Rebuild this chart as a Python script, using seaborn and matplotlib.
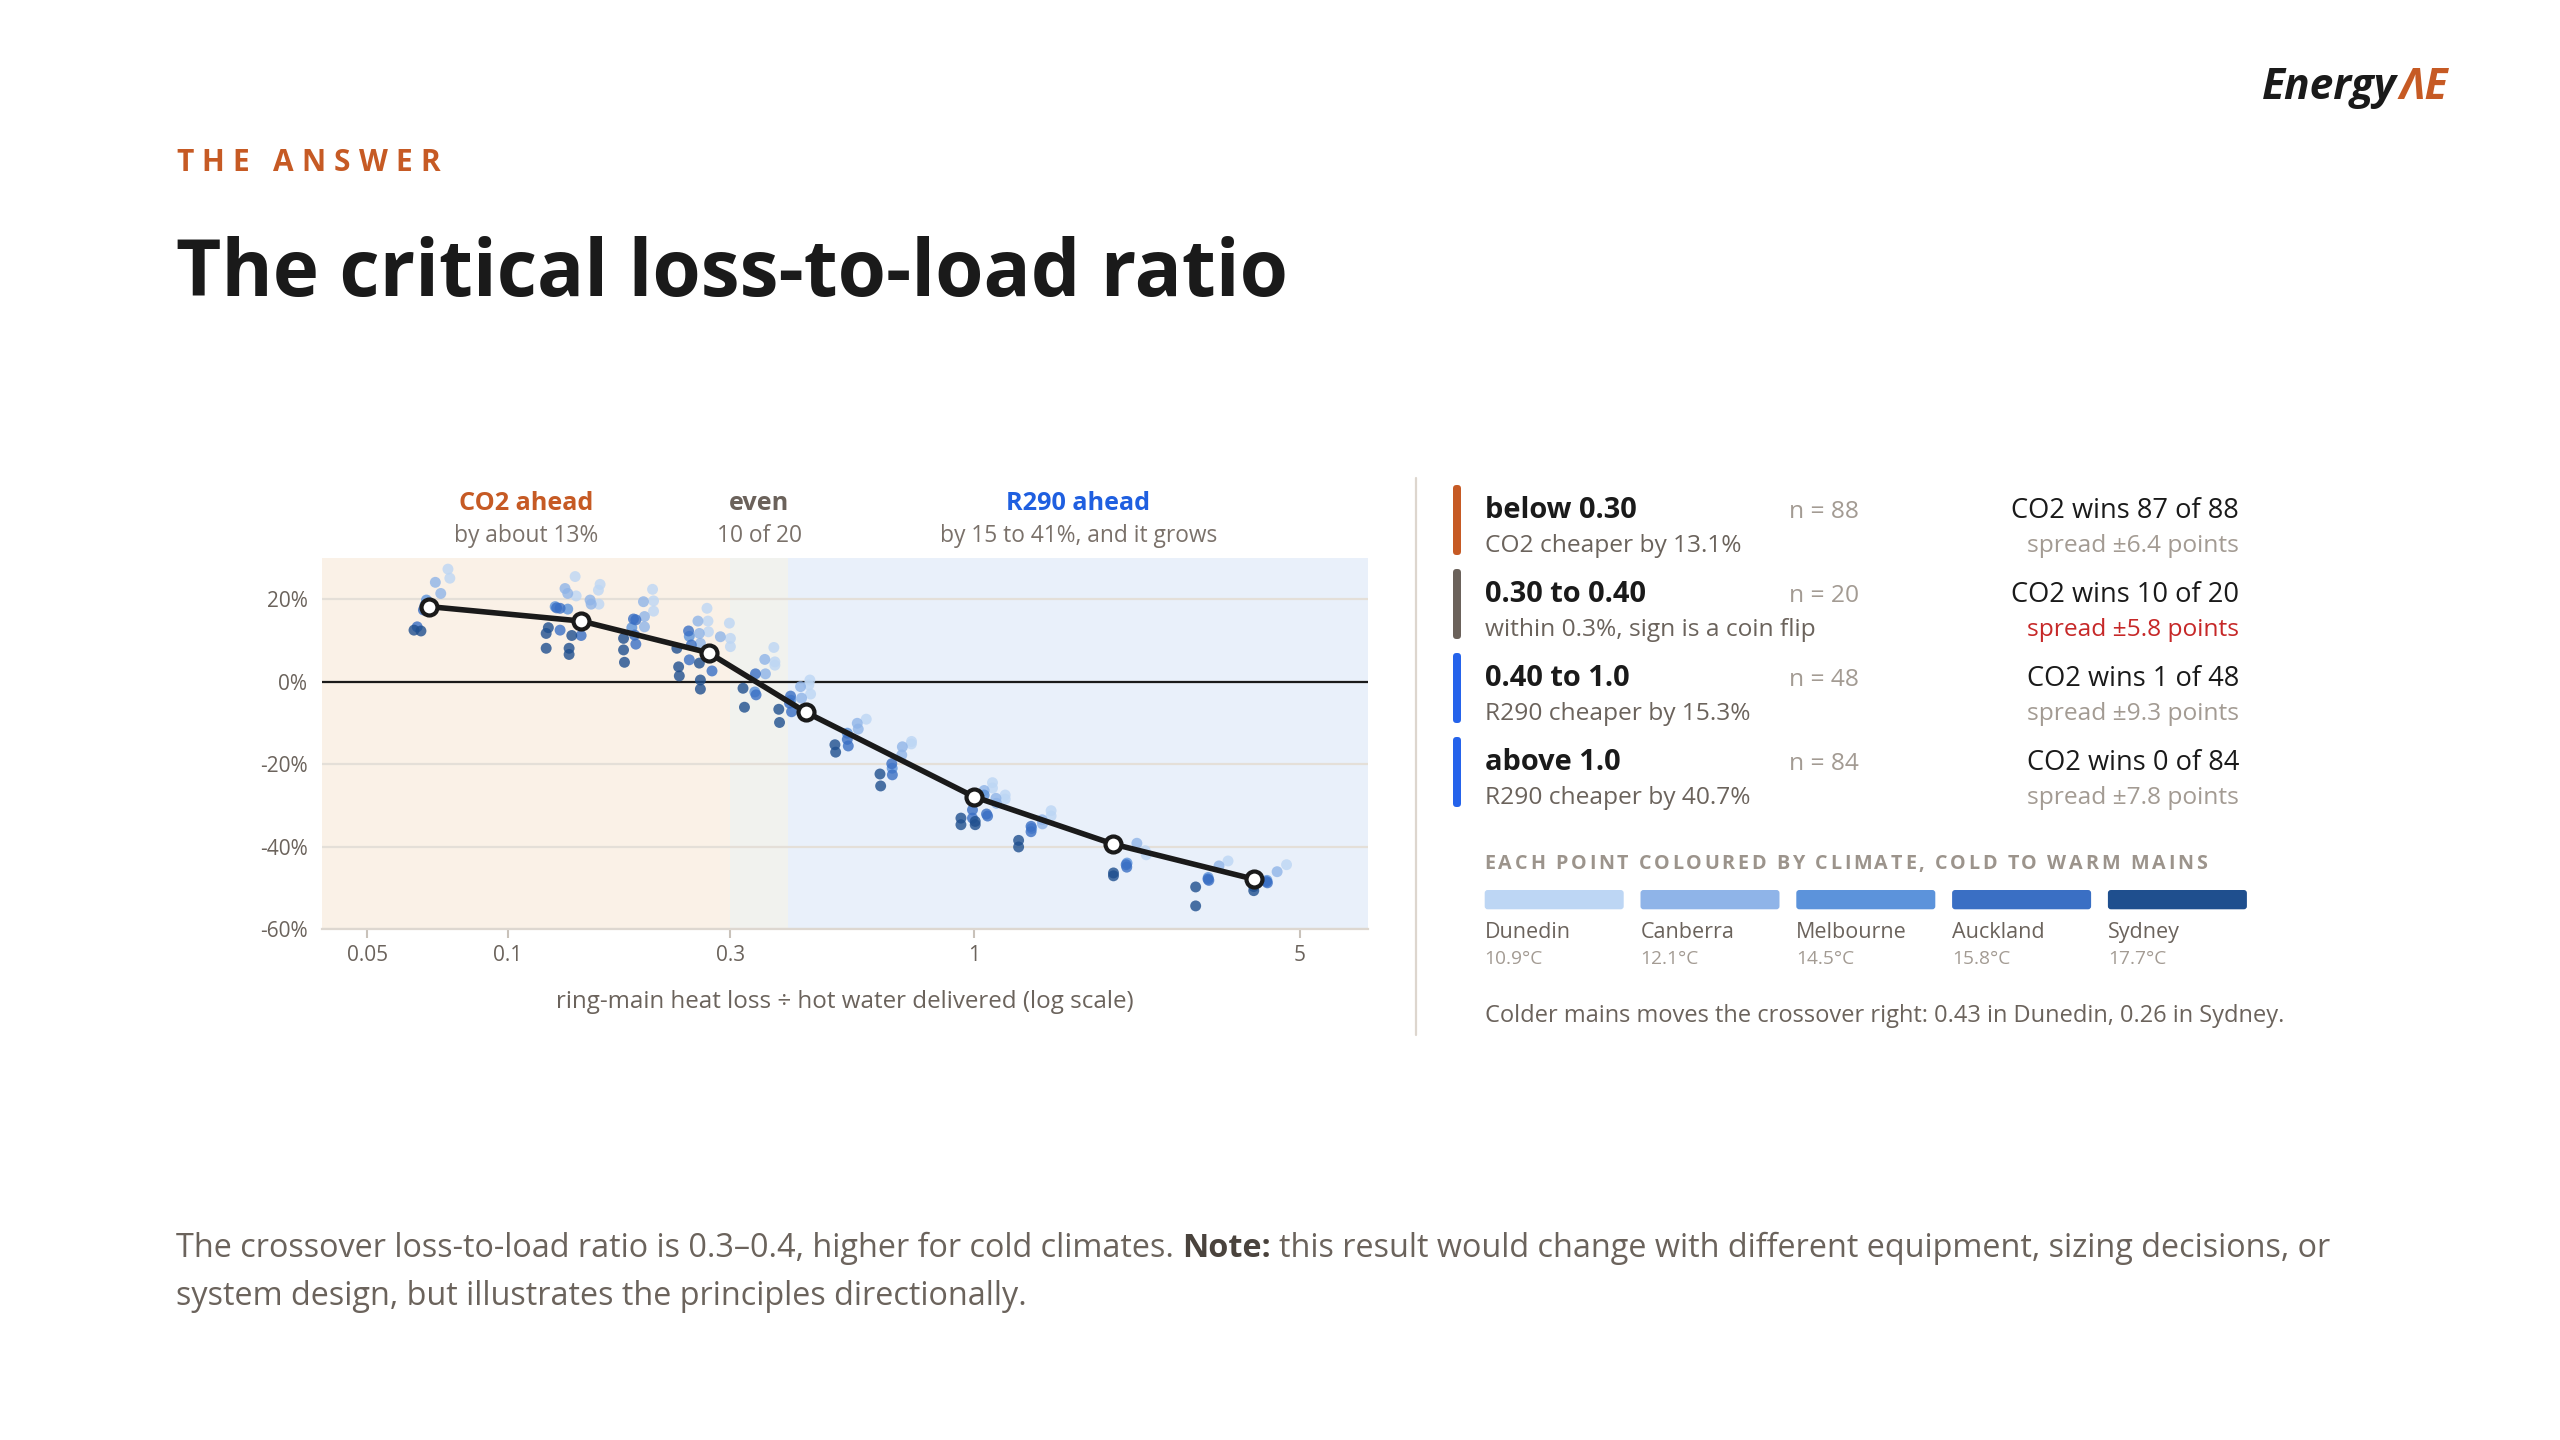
import numpy as np
import pandas as pd
import matplotlib
matplotlib.use("Agg")
import matplotlib.pyplot as plt
import seaborn as sns
from matplotlib.patches import FancyBboxPatch
from matplotlib.lines import Line2D
from matplotlib.transforms import blended_transform_factory

# ---------------- data ----------------
cities = ["Dunedin", "Canberra", "Melbourne", "Auckland", "Sydney"]
city_temps = ["10.9°C", "12.1°C", "14.5°C", "15.8°C", "17.7°C"]
city_colors = ["#BDD6F4", "#8FB4E8", "#5C93DB", "#3A6FC4", "#1F4F8E"]

dunedin_x = [0.0745, 0.0752, 0.1396, 0.1403, 0.1566, 0.1579, 0.1570, 0.2046, 0.2056, 0.2056,
             0.2677, 0.2690, 0.2696, 0.2990, 0.3005, 0.3005, 0.3724, 0.3743, 0.3743, 0.4427,
             0.4449, 0.4465, 0.5877, 0.7343, 0.7350, 1.096, 1.096, 1.167, 1.167, 1.464,
             1.464, 2.342, 2.330, 3.507, 4.682]
dunedin_y = [27.3, 25.1, 25.5, 20.8, 22.2, 23.6, 18.8, 22.4, 19.6, 17.1,
             17.8, 14.7, 12.1, 14.2, 10.5, 8.5, 8.3, 4.8, 4.0, -0.8,
             0.4, -3.0, -9.1, -15.1, -14.5, -24.5, -25.8, -27.5, -28.5, -31.3,
             -32.6, -42.0, -41.0, -43.5, -44.4]

canberra_x = [0.0700, 0.0719, 0.1328, 0.1346, 0.1503, 0.1511, 0.1956, 0.1966, 0.1966, 0.2560,
              0.2578, 0.2591, 0.2860, 0.3561, 0.3573, 0.4249, 0.4270, 0.5622, 0.5649, 0.7024,
              0.7003, 1.052, 1.118, 1.115, 1.400, 1.403, 2.236, 3.354, 4.469]
canberra_y = [24.1, 21.4, 22.6, 21.4, 19.8, 18.8, 19.4, 15.8, 13.3, 14.7,
              11.7, 9.3, 10.9, 5.4, 1.9, -1.2, -4.0, -10.1, -11.5, -15.8,
              -17.8, -26.4, -29.5, -28.3, -33.5, -34.5, -39.2, -44.7, -46.1]

melbourne_x = [0.0670, 0.0665, 0.1265, 0.1346, 0.1847, 0.2453, 0.3390, 0.4050, 0.5352, 0.6680,
               0.998, 1.052, 1.330, 2.130, 3.180, 4.250]
melbourne_y = [19.8, 18.5, 18.2, 17.6, 13.1, 11.0, -2.5, -4.5, -12.5, -21.0,
               -29.0, -27.5, -35.6, -44.0, -47.5, -48.2]

auckland_x = [0.0640, 0.0660, 0.1274, 0.1296, 0.1296, 0.1438, 0.1862, 0.1884, 0.1884, 0.1872,
              0.2444, 0.2453, 0.2478, 0.2744, 0.3401, 0.3411, 0.4024, 0.4044, 0.4064, 0.5352,
              0.5378, 0.6666, 0.6686, 0.993, 0.993, 1.0643, 1.070, 1.326, 1.326, 2.121,
              2.127, 3.177, 3.190, 4.241, 4.260]
auckland_y = [13.3, 17.4, 17.9, 17.8, 12.5, 11.2, 15.2, 15.0, 9.1, 11.3,
              12.3, 5.3, 8.9, 2.6, 1.9, -3.2, -5.2, -3.5, -7.3, -14.0,
              -15.6, -19.9, -22.6, -31.1, -33.1, -32.1, -32.6, -35.1, -36.4, -44.4,
              -45.0, -47.9, -48.2, -48.5, -48.8]

sydney_x = [0.0630, 0.0652, 0.1210, 0.1210, 0.1223, 0.1355, 0.1355, 0.1373, 0.1773, 0.1773,
            0.1781, 0.2307, 0.2327, 0.2335, 0.2578, 0.2591, 0.2591, 0.3198, 0.3221, 0.3816,
            0.3830, 0.5035, 0.5053, 0.6289, 0.6310, 0.938, 0.938, 1.0065, 1.0065, 1.247,
            1.247, 1.992, 1.992, 2.989, 2.989, 3.982, 3.982]
sydney_y = [12.5, 12.3, 11.7, 8.1, 13.1, 8.1, 6.6, 11.2, 10.5, 7.7,
            4.7, 8.1, 3.6, 1.4, 4.5, 0.4, -1.8, -1.6, -6.2, -6.7,
            -9.9, -15.3, -17.1, -22.4, -25.3, -34.7, -33.1, -34.7, -33.9, -38.5,
            -40.1, -46.4, -47.1, -49.8, -54.4, -50.7, -49.7]

median_x = [0.068, 0.144, 0.27, 0.436, 1.0, 1.99, 3.98]
median_y = [18.2, 14.7, 7.0, -7.4, -27.9, -39.4, -47.9]

band_edges = [0.04, 0.30, 0.40, 7.0]
band_bg = ["#FAF1E7", "#F1F2EE", "#E9F0FA"]
band_titles = ["CO2 ahead", "even", "R290 ahead"]
band_subs = ["by about 13%", "10 of 20", "by 15 to 41%, and it grows"]
band_title_colors = ["#C65A24", "#6B625B", "#1F5FE0"]

x_ticks = [0.05, 0.1, 0.3, 1, 5]
x_tick_labels = ["0.05", "0.1", "0.3", "1", "5"]
y_ticks = [-60, -40, -20, 0, 20]
y_tick_labels = ["-60%", "-40%", "-20%", "0%", "20%"]

row_labels = ["below 0.30", "0.30 to 0.40", "0.40 to 1.0", "above 1.0"]
row_desc = ["CO2 cheaper by 13.1%", "within 0.3%, sign is a coin flip",
            "R290 cheaper by 15.3%", "R290 cheaper by 40.7%"]
row_n = [88, 20, 48, 84]
row_wins = [87, 10, 1, 0]
row_spread = [6.4, 5.8, 9.3, 7.8]
row_bar_colors = ["#C65A24", "#6B625B", "#2563EB", "#2563EB"]
row_spread_colors = ["#A39B93", "#C62828", "#A39B93", "#A39B93"]

# ---------------- style ----------------
sns.set_theme(style="white")
plt.rcParams['font.family'] = ['Open Sans', 'DejaVu Sans']

W, H = 2560, 1440
fig = plt.figure(figsize=(W / 100, H / 100), dpi=100)
fig.patch.set_facecolor("white")
renderer = fig.canvas.get_renderer()

DARK = "#1A1A1A"
BODY = "#6B635C"
LIGHT = "#A39B93"


def tw(t):
    return t.get_window_extent(renderer=renderer).width


def measure(s, size, **kw):
    t = fig.text(0, 0, s, fontsize=size, **kw)
    w = tw(t)
    t.remove()
    return w


def fit_size(s, target, size=20, **kw):
    return size * target / measure(s, size, **kw)


def put(px, py, s, size, **kw):
    return fig.text(px / W, 1 - py / H, s, fontsize=size, va="baseline", **kw)


def tracked(px, py, s, size, target, **kw):
    widths = []
    for ch in s:
        if ch == " ":
            widths.append(measure("x x", size, **kw) - measure("xx", size, **kw))
        else:
            widths.append(measure(ch, size, **kw))
    track = (target - sum(widths)) / (len(s) - 1)
    x = px
    for ch, w in zip(s, widths):
        if ch != " ":
            put(x, py, ch, size, **kw)
        x += w + track


# ---------------- chart ----------------
ax_l, ax_r, ax_t, ax_b = 322, 1368, 558, 929
ax = fig.add_axes([ax_l / W, 1 - ax_b / H, (ax_r - ax_l) / W, (ax_b - ax_t) / H])
ax.set_xscale("log")
ax.set_xlim(band_edges[0], band_edges[-1])
ax.set_ylim(-60, 30)
ax.set_facecolor("white")

for i in range(3):
    ax.axvspan(band_edges[i], band_edges[i + 1], color=band_bg[i], zorder=0, lw=0)

ax.set_axisbelow(True)
ax.grid(axis="y", color="#E4DFD8", lw=1.6, zorder=0.5)
ax.grid(axis="x", visible=False)
ax.axhline(0, color=DARK, lw=1.6, zorder=2)

frames = []
for name, xs, ys in [("Dunedin", dunedin_x, dunedin_y), ("Canberra", canberra_x, canberra_y),
                     ("Melbourne", melbourne_x, melbourne_y), ("Auckland", auckland_x, auckland_y),
                     ("Sydney", sydney_x, sydney_y)]:
    frames.append(pd.DataFrame({"ratio": xs, "diff": ys, "city": name}))
df = pd.concat(frames, ignore_index=True)

sns.scatterplot(data=df, x="ratio", y="diff", hue="city", hue_order=cities,
                palette=dict(zip(cities, city_colors)), s=62, alpha=0.8,
                edgecolor="none", linewidth=0, legend=False, ax=ax, zorder=3)

sns.lineplot(x=median_x, y=median_y, ax=ax, color=DARK, linewidth=4.0, marker="o",
             markersize=11.5, markerfacecolor="white", markeredgecolor=DARK,
             markeredgewidth=3.0, zorder=5, sort=False, estimator=None)
med_line = ax.lines[-1]
med_line.set_linewidth(4.0)
med_line.set_markersize(11.5)
med_line.set_markeredgewidth(3.0)
med_line.set_markeredgecolor(DARK)
med_line.set_markerfacecolor("white")
med_line.set_solid_joinstyle("round")

ax.set_xticks(x_ticks)
ax.set_xticklabels(x_tick_labels)
ax.xaxis.set_minor_locator(matplotlib.ticker.NullLocator())
ax.set_yticks(y_ticks)
ax.set_yticklabels(y_tick_labels)
ax.tick_params(axis="x", which="major", length=6.5, width=1.5, color="#C9C2BA",
               labelsize=15, labelcolor=BODY, pad=5, direction="out", bottom=True)
ax.tick_params(axis="y", length=0, labelsize=15, labelcolor=BODY, pad=10.5)
for side in ["top", "left", "right"]:
    ax.spines[side].set_visible(False)
ax.spines["bottom"].set_color("#DDD7D0")
ax.spines["bottom"].set_linewidth(1.6)
ax.set_xlabel("")
ax.set_ylabel("")

xl_size = fit_size("ring-main heat loss ÷ hot water delivered (log scale)", 575)
put((ax_l + ax_r) / 2, 1008, "ring-main heat loss ÷ hot water delivered (log scale)",
    xl_size, color=BODY, ha="center")

# band headers
bt = blended_transform_factory(ax.transData, ax.transAxes)
head_size = fit_size("CO2 ahead", 135, fontweight="bold")
sub_size = fit_size("by about 13%", 144)
for i in range(3):
    xc = np.sqrt(band_edges[i] * band_edges[i + 1])
    ax.text(xc, (ax_b - 510) / (ax_b - ax_t), band_titles[i], transform=bt, ha="center",
            va="baseline", fontsize=head_size, fontweight="bold", color=band_title_colors[i])
    ax.text(xc, (ax_b - 541.7) / (ax_b - ax_t), band_subs[i], transform=bt, ha="center",
            va="baseline", fontsize=sub_size, color="#7A716A")

# ---------------- header ----------------
tracked(176, 170.7, "THE ANSWER", 21.5, 264, fontweight="bold", color="#C65A24")
title_size = fit_size("The critical loss-to-load ratio", 1112, size=60, fontweight="bold")
put(176, 296, "The critical loss-to-load ratio", title_size, fontweight="bold", color=DARK)

logo_size = fit_size("Energy", 135, size=30, fontweight="bold", fontstyle="italic")
lt = put(2262, 99, "Energy", logo_size, fontweight="bold", fontstyle="italic", color=DARK)
put(2262 + tw(lt) + 3, 99, "ΛE", logo_size, fontweight="bold", fontstyle="italic",
    color="#C65A24")

# ---------------- right panel ----------------
fig.add_artist(Line2D([1416 / W, 1416 / W], [1 - 478 / H, 1 - 1035 / H],
                      color="#DDD6CE", lw=1.6))

lab_size = fit_size("below 0.30", 152, fontweight="bold")
desc_size = fit_size("CO2 cheaper by 13.1%", 256)
wins_size = fit_size("CO2 wins 87 of 88", 228)
for i in range(4):
    top = 485 + 84 * i
    fig.patches.append(FancyBboxPatch((1453 / 100, (H - top - 70) / 100), 0.08, 0.70,
                                      boxstyle="round,pad=0,rounding_size=0.035",
                                      transform=fig.dpi_scale_trans, facecolor=row_bar_colors[i],
                                      edgecolor="none", figure=fig))
    put(1484.7, 518 + 84 * i, row_labels[i], lab_size, fontweight="bold", color=DARK)
    put(1484.7, 551.7 + 84 * i, row_desc[i], desc_size, color=BODY)
    put(1788.6, 518 + 84 * i, f"n = {row_n[i]}", desc_size, color=LIGHT)
    put(2239, 518 + 84 * i, f"CO2 wins {row_wins[i]} of {row_n[i]}", wins_size,
        color=DARK, ha="right")
    put(2239, 551.7 + 84 * i, f"spread ±{row_spread[i]} points", desc_size,
        color=row_spread_colors[i], ha="right")

tracked(1484.7, 869.3, "EACH POINT COLOURED BY CLIMATE, COLD TO WARM MAINS", 14.2, 722,
        fontweight="bold", color="#9C948C")
city_size = fit_size("Melbourne", 110)
temp_size = fit_size("14.5°C", 58)
for i, (c, t, col) in enumerate(zip(cities, city_temps, city_colors)):
    x0 = 1484.7 + 155.8 * i
    fig.patches.append(FancyBboxPatch((x0 / 100, (H - 909.3) / 100), 1.39, 0.193,
                                      boxstyle="round,pad=0,rounding_size=0.03",
                                      transform=fig.dpi_scale_trans, facecolor=col,
                                      edgecolor="none", figure=fig))
    put(x0, 938.3, c, city_size, color=BODY)
    put(x0, 964, t, temp_size, color=LIGHT)

note = "Colder mains moves the crossover right: 0.43 in Dunedin, 0.26 in Sydney."
put(1484.7, 1021.7, note, fit_size(note, 796), color=BODY)

# ---------------- footer ----------------
foot_a = "The crossover loss-to-load ratio is 0.3–0.4, higher for cold climates."
foot_b = "Note:"
foot_c = "this result would change with different equipment, sizing decisions, or"
foot_2 = "system design, but illustrates the principles directionally."
s0 = 20
sp = measure("x x", s0) - measure("xx", s0)
tot = measure(foot_a, s0) + sp + measure(foot_b, s0, fontweight="bold") + sp + measure(foot_c, s0)
fs = s0 * 2151 / tot
sp = measure("x x", fs) - measure("xx", fs)
ta = put(176, 1257, foot_a, fs, color=BODY)
xb = 176 + tw(ta) + sp
tb = put(xb, 1257, foot_b, fs, color="#4A433D", fontweight="bold")
xc = xb + tw(tb) + sp
put(xc, 1257, foot_c, fs, color=BODY)
put(176, 1305, foot_2, fs, color=BODY)

fig.savefig("out.png", dpi=100, facecolor="white")
